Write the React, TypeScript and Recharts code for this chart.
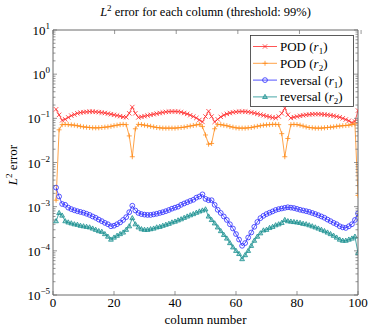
import React from "react";
import { LineChart, Line, XAxis, YAxis, Legend } from "recharts";

// columns 1..100, values (log scale)
const columns = Array.from({ length: 100 }, (_, i) => i + 1);

const podR1 = [
  0.16, 0.12, 0.09, 0.095, 0.105, 0.115, 0.122, 0.13, 0.135, 0.138,
  0.14, 0.142, 0.142, 0.14, 0.138, 0.135, 0.132, 0.128, 0.124, 0.12,
  0.116, 0.112, 0.108, 0.106, 0.13, 0.18, 0.13, 0.105, 0.108, 0.112,
  0.116, 0.12, 0.124, 0.128, 0.132, 0.136, 0.14, 0.142, 0.143, 0.143,
  0.142, 0.138, 0.132, 0.126, 0.118, 0.11, 0.102, 0.092, 0.083, 0.11,
  0.145, 0.11, 0.083, 0.095, 0.108, 0.118, 0.126, 0.132, 0.137, 0.14,
  0.142, 0.143, 0.142, 0.14, 0.136, 0.132, 0.127, 0.122, 0.117, 0.112,
  0.108, 0.104, 0.102, 0.11, 0.13, 0.17, 0.12, 0.102, 0.106, 0.11,
  0.114, 0.117, 0.12, 0.122, 0.124, 0.125, 0.125, 0.124, 0.122, 0.12,
  0.117, 0.114, 0.11, 0.106, 0.1, 0.094, 0.088, 0.08, 0.085, 0.15,
];

const podR2 = [
  0.0014, 0.055, 0.072, 0.073, 0.072, 0.071, 0.07, 0.068, 0.066, 0.064,
  0.063, 0.062, 0.061, 0.061, 0.061, 0.062, 0.063, 0.064, 0.066, 0.068,
  0.07, 0.072, 0.073, 0.072, 0.04, 0.0135, 0.058, 0.073, 0.072, 0.07,
  0.068, 0.066, 0.064, 0.062, 0.061, 0.06, 0.06, 0.06, 0.06, 0.06,
  0.061, 0.062, 0.063, 0.065, 0.067, 0.069, 0.071, 0.073, 0.065, 0.042,
  0.026, 0.027, 0.058, 0.073, 0.072, 0.07, 0.068, 0.065, 0.063, 0.061,
  0.06, 0.06, 0.06, 0.061, 0.062, 0.064, 0.066, 0.068, 0.07, 0.071,
  0.072, 0.073, 0.073, 0.072, 0.045, 0.0135, 0.035, 0.072, 0.073, 0.072,
  0.07, 0.067, 0.064, 0.062, 0.061, 0.06, 0.06, 0.06, 0.061, 0.062,
  0.063, 0.064, 0.066, 0.067, 0.068, 0.069, 0.07, 0.072, 0.075, 0.0018,
];

const revR1 = [
  0.0027, 0.0017, 0.00115, 0.0011, 0.00095, 0.00088, 0.00083, 0.00079, 0.00076, 0.00073,
  0.00069, 0.00065, 0.0006, 0.00056, 0.00051, 0.00047, 0.00043, 0.0004, 0.00036, 0.00037,
  0.0004, 0.00044, 0.0005, 0.00058, 0.00075, 0.00105, 0.00082, 0.00072, 0.00068, 0.00066,
  0.00065, 0.00065, 0.00067, 0.00069, 0.00072, 0.00075, 0.00079, 0.00084, 0.0009, 0.00095,
  0.001, 0.0011, 0.00118, 0.00126, 0.00135, 0.00143, 0.0016, 0.0017, 0.0019, 0.0015,
  0.0014, 0.0014, 0.0011, 0.00085, 0.00072, 0.0006, 0.0005, 0.0004, 0.00032, 0.00024,
  0.00018, 0.00013, 0.00015, 0.0002, 0.00026, 0.00035, 0.00045, 0.00055, 0.00062, 0.00068,
  0.00073, 0.00078, 0.00084, 0.00088, 0.00091, 0.00094, 0.00097, 0.00095, 0.00093, 0.00089,
  0.00085, 0.00082, 0.00079, 0.00076, 0.00072, 0.00068, 0.00064, 0.0006, 0.00056, 0.00051,
  0.00047, 0.00043, 0.0004, 0.00036, 0.00034, 0.00033, 0.00036, 0.0004, 0.0005, 0.0007,
];

const revR2 = [
  0.00047, 0.00072, 0.00063, 0.00047, 0.00044, 0.00042, 0.0004, 0.00039, 0.00037, 0.00036,
  0.00035, 0.00034, 0.00032, 0.0003, 0.00028, 0.00027, 0.00024, 0.00021, 0.00018, 0.0002,
  0.00022, 0.00024, 0.00026, 0.0003, 0.00036, 0.00055, 0.0004, 0.00034, 0.00031, 0.0003,
  0.0003, 0.00031, 0.00032, 0.00034, 0.00035, 0.00037, 0.00039, 0.00041, 0.00044, 0.00046,
  0.00049, 0.00052, 0.00056, 0.0006, 0.00064, 0.00068, 0.00073, 0.00078, 0.00082, 0.00087,
  0.0006, 0.0005, 0.00042, 0.00034, 0.00028, 0.00023, 0.00019, 0.00015, 0.00012, 0.0001,
  0.000085, 0.000065, 0.00008, 0.0001, 0.00013, 0.00017, 0.00021, 0.00025, 0.00029, 0.0003,
  0.00033, 0.00035, 0.00038, 0.0004, 0.00043, 0.0005, 0.00047, 0.00046, 0.00045, 0.00044,
  0.00043, 0.00041, 0.0004, 0.00038, 0.00036, 0.00034, 0.00032, 0.0003, 0.00028, 0.00026,
  0.00024, 0.00022, 0.0002, 0.00018, 0.00017, 0.00017, 0.00018, 0.00019, 0.00021, 0.00009,
];

const xTicks = [0, 20, 40, 60, 80, 100];
const yDecades = [1e-5, 1e-4, 1e-3, 1e-2, 1e-1, 1, 10];
const yTicks = yDecades.flatMap((d, i) =>
  i === yDecades.length - 1 ? [d] : [1, 2, 3, 4, 5, 6, 7, 8, 9].map((k) => k * d)
);

const AXIS = "#6a6a6a";
const FONT = "Liberation Serif";

type Mark = "x" | "+" | "o" | "tri";
const series: { key: string; name: string; sub: string; color: string; mark: Mark }[] = [
  { key: "podR1", name: "POD", sub: "1", color: "#ff2a2a", mark: "x" },
  { key: "podR2", name: "POD", sub: "2", color: "#ff8c1a", mark: "+" },
  { key: "revR1", name: "reversal", sub: "1", color: "#2a2aff", mark: "o" },
  { key: "revR2", name: "reversal", sub: "2", color: "#1a9090", mark: "tri" },
];

const data = columns.map((c, i) => ({
  col: c,
  podR1: podR1[i],
  podR2: podR2[i],
  revR1: revR1[i],
  revR2: revR2[i],
}));

function marker(mark: Mark, color: string, cx: number, cy: number) {
  if (mark === "x")
    return (
      <path
        d={`M${cx - 2.2},${cy - 2.2}L${cx + 2.2},${cy + 2.2}M${cx - 2.2},${cy + 2.2}L${cx + 2.2},${cy - 2.2}`}
        stroke={color}
        strokeWidth={0.8}
      />
    );
  if (mark === "+")
    return (
      <path
        d={`M${cx - 2.5},${cy}L${cx + 2.5},${cy}M${cx},${cy - 2.5}L${cx},${cy + 2.5}`}
        stroke={color}
        strokeWidth={0.8}
      />
    );
  if (mark === "o") return <circle cx={cx} cy={cy} r={2.4} fill="none" stroke={color} strokeWidth={0.8} />;
  return (
    <path
      d={`M${cx},${cy - 2.6}L${cx + 2.4},${cy + 1.6}L${cx - 2.4},${cy + 1.6}Z`}
      fill={color}
      fillOpacity={0.35}
      stroke={color}
      strokeWidth={0.8}
    />
  );
}

const dotFor = (mark: Mark, color: string) => (p: any) => (
  <g key={`d-${mark}-${p.index}`}>{p.cx == null || p.cy == null ? null : marker(mark, color, p.cx, p.cy)}</g>
);

const isDecade = (v: number) => Math.abs(Math.log10(v) - Math.round(Math.log10(v))) < 1e-6;

function LeftTick({ x, y, payload }: any) {
  const v = payload.value;
  const major = isDecade(v);
  const e = Math.round(Math.log10(v));
  return (
    <g>
      <line x1={x} x2={x + (major ? 4 : 2.5)} y1={y} y2={y} stroke={AXIS} strokeWidth={0.7} />
      {major && (
        <text x={x - 3} y={y + 5} textAnchor="end" fontSize={13} fill="#000" fontFamily={FONT}>
          10
          <tspan dy={-6} fontSize={9}>
            {e < 0 ? `\u2212${-e}` : `${e}`}
          </tspan>
        </text>
      )}
    </g>
  );
}

function RightTick({ x, y, payload }: any) {
  const major = isDecade(payload.value);
  return <line x1={x} x2={x - (major ? 4 : 2.5)} y1={y} y2={y} stroke={AXIS} strokeWidth={0.7} />;
}

function BottomTick({ x, y, payload }: any) {
  return (
    <g>
      <line x1={x} x2={x} y1={y} y2={y - 4} stroke={AXIS} strokeWidth={0.7} />
      <text x={x} y={y + 12} textAnchor="middle" fontSize={13} fill="#000" fontFamily={FONT}>
        {payload.value}
      </text>
    </g>
  );
}

function TopTick({ x, y }: any) {
  return <line x1={x} x2={x} y1={y} y2={y + 4} stroke={AXIS} strokeWidth={0.7} />;
}

function LegendBox() {
  return (
    <svg width={104} height={72} style={{ display: "block" }}>
      <rect x={0.5} y={0.5} width={103} height={71} fill="#fff" stroke="#333" strokeWidth={0.8} />
      {series.map((s, i) => {
        const cy = 11.5 + i * 16.8;
        return (
          <g key={s.key}>
            <line x1={3} x2={27} y1={cy} y2={cy} stroke={s.color} strokeWidth={0.8} />
            {marker(s.mark, s.color, 15, cy)}
            <text x={30} y={cy + 4.5} fontSize={13} fill="#000" fontFamily={FONT}>
              {s.name} (<tspan fontStyle="italic">r</tspan>
              <tspan dy={3} fontSize={9}>
                {s.sub}
              </tspan>
              <tspan dy={-3}>)</tspan>
            </text>
          </g>
        );
      })}
    </svg>
  );
}

export default function App() {
  return (
    <div style={{ position: "absolute", left: 0, top: 0, width: 374, height: 331, background: "#fff", fontFamily: FONT }}>
      <div style={{ position: "absolute", left: 53, top: 4, width: 305, textAlign: "center", fontSize: 12.5, lineHeight: "16px" }}>
        <i>L</i>
        <sup style={{ fontSize: 9, lineHeight: 0 }}>2</sup> error for each column (threshold: 99%)
      </div>
      <div
        style={{
          position: "absolute",
          left: 13,
          top: 165,
          transform: "translate(-50%, -50%) rotate(-90deg)",
          whiteSpace: "nowrap",
          fontSize: 13,
          lineHeight: "16px",
        }}
      >
        <i>L</i>
        <sup style={{ fontSize: 9, lineHeight: 0 }}>2</sup> error
      </div>
      <div style={{ position: "absolute", left: 53, top: 312, width: 305, textAlign: "center", fontSize: 13, lineHeight: "16px" }}>
        column number
      </div>
      <LineChart width={374} height={331} data={data} margin={{ top: 28, right: 6, bottom: 6, left: 3 }}>
        <XAxis
          xAxisId="b"
          dataKey="col"
          type="number"
          domain={[0, 100]}
          ticks={xTicks}
          interval={0}
          height={30}
          tickSize={0}
          tickMargin={0}
          tickLine={false}
          tick={(p: any) => <BottomTick {...p} />}
          axisLine={{ stroke: AXIS }}
          allowDataOverflow
        />
        <XAxis
          xAxisId="t"
          orientation="top"
          type="number"
          domain={[0, 100]}
          ticks={xTicks}
          interval={0}
          height={2}
          tickSize={0}
          tickMargin={0}
          tickLine={false}
          tick={(p: any) => <TopTick {...p} />}
          axisLine={{ stroke: AXIS }}
          allowDataOverflow
        />
        <YAxis
          yAxisId="l"
          type="number"
          scale="log"
          domain={[1e-5, 10]}
          ticks={yTicks}
          interval={0}
          width={50}
          tickSize={0}
          tickMargin={0}
          tickLine={false}
          tick={(p: any) => <LeftTick {...p} />}
          axisLine={{ stroke: AXIS }}
          allowDataOverflow
        />
        <YAxis
          yAxisId="r"
          orientation="right"
          type="number"
          scale="log"
          domain={[1e-5, 10]}
          ticks={yTicks}
          interval={0}
          width={10}
          tickSize={0}
          tickMargin={0}
          tickLine={false}
          tick={(p: any) => <RightTick {...p} />}
          axisLine={{ stroke: AXIS }}
          allowDataOverflow
        />
        {series.map((s) => (
          <Line
            key={s.key}
            xAxisId="b"
            yAxisId="l"
            dataKey={s.key}
            name={s.name}
            type="linear"
            stroke={s.color}
            strokeWidth={0.8}
            dot={dotFor(s.mark, s.color)}
            activeDot={false}
            isAnimationActive={false}
          />
        ))}
        <Legend
          layout="vertical"
          align="center"
          verticalAlign="middle"
          wrapperStyle={{ left: 250, top: 35, width: 104, height: 72 }}
          content={() => <LegendBox />}
        />
      </LineChart>
    </div>
  );
}
